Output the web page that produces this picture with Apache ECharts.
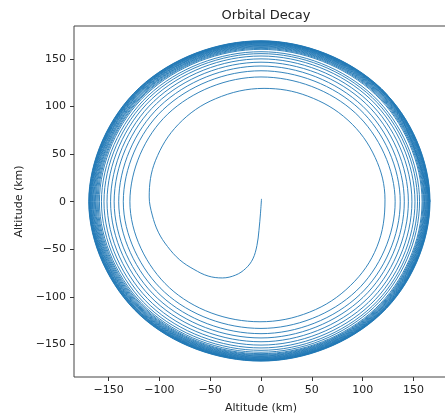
<!DOCTYPE html>
<html>
<head>
<meta charset="utf-8">
<script src="https://cdn.jsdelivr.net/npm/echarts@6/dist/echarts.min.js"></script>
<style>html,body{margin:0;padding:0;background:#fff}#c{width:445px;height:416px}</style>
</head>
<body>
<div id="c"></div>
<script>
// Inner hook and first loop (outward order, km)
const innerX = [0.5, -0.5, -2, -4, -8, -15, -25, -38, -52, -66, -80, -92, -101, -107, -110, -103.9, -81.3, -44.8, 3, 45.9, 85.6, 112.3, 122, 114.1, 88, 48, -1];
const innerY = [3, -12, -30, -46, -60, -70, -77, -80, -78, -71, -61, -47, -32, -14, 5, 43, 81.3, 108.1, 119, 110.9, 85.6, 46.5, 2, -47.3, -88, -115.8, -126];
// Separate middle turns (8 readings per turn, outward order, km)
const middleX = [
  -90.2, -129, -91.9, 0, 93, 132, 93.7, 0,
  -94.9, -135.5, -96.5, 0, 97.1, 137, 97.4, 0,
  -98.5, -140, -99.9, 0, 100.2, 141, 100.4, 0,
  -101.6, -144.5, -102.9, 0, 103.1, 145, 103.2, 0,
  -104.3, -148, -105.4, 0, 105.5, 148.5, 105.7, 0,
  -106.8, -151.5, -107.7, 0, 107.7, 151.5, 107.8, 0,
  -108.9, -154.5, -109.6, 0, 109.4, 154, 109.6, 0,
  -110.7, -157, -111.2, 0, 110.8, 156, 111, 0
];
const middleY = [
  -90.2, 0, 91.9, 131, 93, 0, -93.7, -133,
  -94.9, 0, 96.5, 137.5, 97.1, 0, -97.4, -138.5,
  -98.5, 0, 99.9, 142.5, 100.2, 0, -100.4, -143,
  -101.6, 0, 102.9, 146.5, 103.1, 0, -103.2, -147,
  -104.3, 0, 105.4, 150, 105.5, 0, -105.7, -150.5,
  -106.8, 0, 107.7, 153, 107.7, 0, -107.8, -153.5,
  -108.9, 0, 109.6, 155.5, 109.4, 0, -109.6, -156,
  -110.7, 0, 111.2, 157.5, 110.8, 0, -111, -158
];
// Dense outer band turns (outward order, km)
const bandX = [
  -112.1, -159, -112.8, 0, 112.6, 158.5, 112.4, 0,
  -113, -160.2, -113.6, 0, 113.3, 159.4, 113.1, 0,
  -113.7, -161.2, -114.2, 0, 113.9, 160.2, 113.6, 0,
  -114.3, -162.2, -114.9, 0, 114.4, 160.9, 114.1, 0,
  -114.9, -163, -115.4, 0, 114.9, 161.5, 114.6, 0,
  -115.4, -163.8, -115.9, 0, 115.4, 162.2, 115, 0,
  -115.9, -164.6, -116.5, 0, 115.8, 162.7, 115.4, 0,
  -116.3, -165.3, -116.9, 0, 116.2, 163.3, 115.8, 0,
  -116.7, -165.9, -117.3, 0, 116.6, 163.8, 116.2, 0,
  -117.2, -166.6, -117.8, 0, 117, 164.3, 116.5, 0,
  -117.5, -167.1, -118.1, 0, 117.2, 164.7, 116.8, 0,
  -117.8, -167.6, -118.4, 0, 117.6, 165.1, 117.1, 0,
  -118.1, -168, -118.7, 0, 117.8, 165.4, 117.3, 0,
  -118.4, -168.5, -119, 0, 118, 165.7, 117.5, 0,
  -118.7, -168.9, -119.3, 0, 118.3, 166, 117.7, 0,
  -118.9, -169.2, -119.5, 0, 118.4, 166.3, 117.9, 0,
  -119.1, -169.5, -119.7, 0, 118.6, 166.5
];
const bandY = [
  -112.1, 0, 112.8, 160, 112.6, 0, -112.4, -159.5,
  -113, 0, 113.6, 161, 113.3, 0, -113.1, -160.4,
  -113.7, 0, 114.2, 161.9, 113.9, 0, -113.6, -161.2,
  -114.3, 0, 114.9, 162.7, 114.4, 0, -114.1, -161.9,
  -114.9, 0, 115.4, 163.4, 114.9, 0, -114.6, -162.5,
  -115.4, 0, 115.9, 164.1, 115.4, 0, -115, -163.2,
  -115.9, 0, 116.5, 164.8, 115.8, 0, -115.4, -163.7,
  -116.3, 0, 116.9, 165.4, 116.2, 0, -115.8, -164.3,
  -116.7, 0, 117.3, 165.9, 116.6, 0, -116.2, -164.8,
  -117.2, 0, 117.8, 166.5, 117, 0, -116.5, -165.3,
  -117.5, 0, 118.1, 166.9, 117.2, 0, -116.8, -165.7,
  -117.8, 0, 118.4, 167.4, 117.6, 0, -117.1, -166.1,
  -118.1, 0, 118.7, 167.7, 117.8, 0, -117.3, -166.4,
  -118.4, 0, 119, 168.1, 118, 0, -117.5, -166.7,
  -118.7, 0, 119.3, 168.5, 118.3, 0, -117.7, -167,
  -118.9, 0, 119.5, 168.7, 118.4, 0, -117.9, -167.3,
  -119.1, 0, 119.7, 169, 118.6, 0
];
const tickValues = [-150, -100, -50, 0, 50, 100, 150];
const titleText = 'Orbital Decay';
const xName = 'Altitude (km)';
const yName = 'Altitude (km)';

const allX = innerX.concat(middleX, bandX);
const allY = innerY.concat(middleY, bandY);
const points = allX.map((v, i) => [v, allY[i]]);

const font = 'DejaVu Sans';
const fmt = v => String(v).replace('-', '\u2212');

function axis(name, min, max, gap) {
  return {
    type: 'value', min: min, max: max, name: name, nameLocation: 'middle', nameGap: gap,
    nameTextStyle: {fontFamily: font, fontSize: 11, color: '#222'},
    axisLine: {show: false, onZero: false},
    axisTick: {show: true, length: 4, inside: false, customValues: tickValues, lineStyle: {color: '#333', width: 1}},
    axisLabel: {customValues: tickValues, formatter: fmt, fontFamily: font, fontSize: 11, color: '#222', margin: 8},
    splitLine: {show: false}
  };
}

const chart = echarts.init(document.getElementById('c'), null, {renderer: 'canvas'});
chart.setOption({
  animation: false,
  backgroundColor: '#fff',
  title: {text: titleText, left: 261, top: 4, textAlign: 'center',
    textStyle: {fontFamily: font, fontSize: 13, fontWeight: 'normal', color: '#222'}},
  grid: {left: 74, top: 26, right: -3, bottom: 39, show: true, borderColor: '#444', borderWidth: 1,
    containLabel: false, outerBoundsMode: 'none'},
  xAxis: axis(xName, -184, 184, 26),
  yAxis: axis(yName, -184, 184.5, 40),
  series: [{
    type: 'line', data: points, showSymbol: false, symbol: 'none', smooth: 0.36,
    lineStyle: {color: '#1f77b4', width: 0.9}, clip: true
  }]
});
</script>
</body>
</html>
